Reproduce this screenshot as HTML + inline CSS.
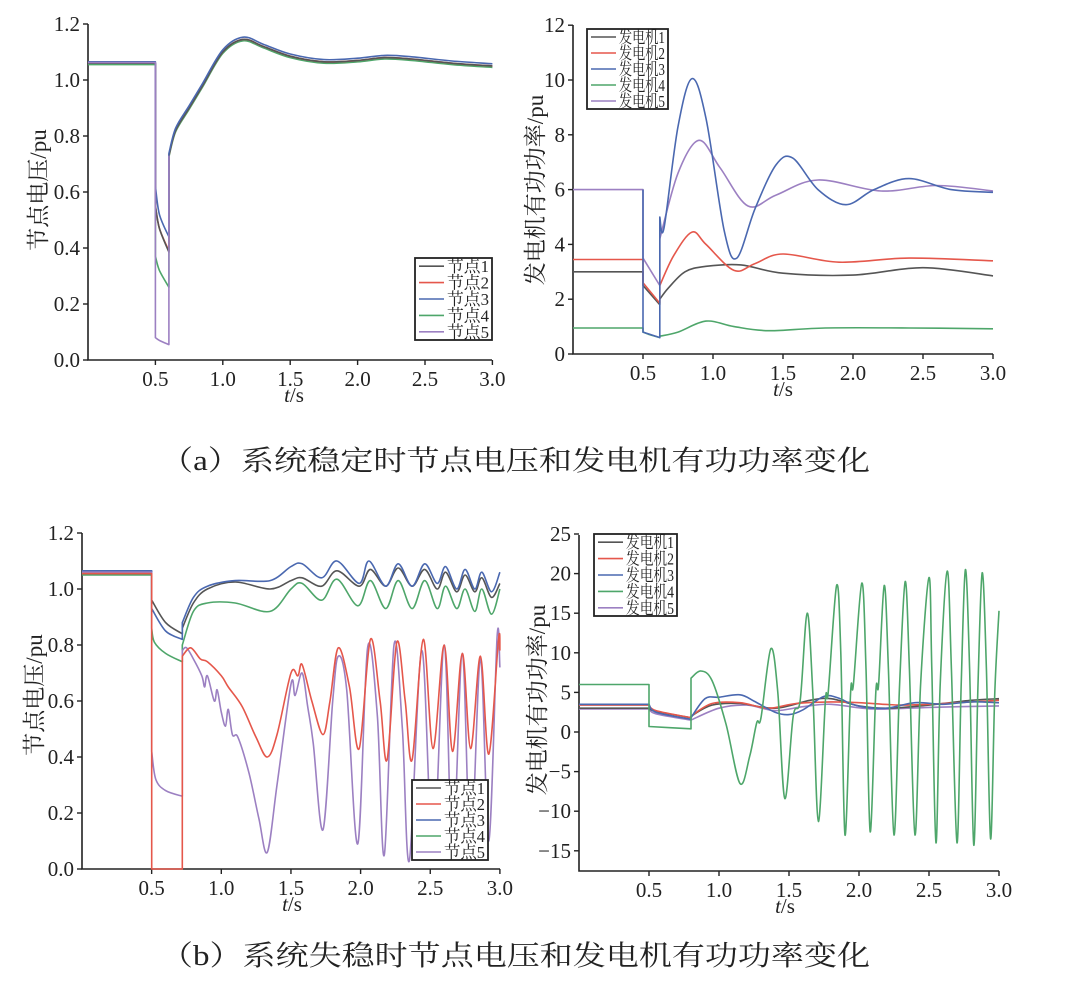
<!DOCTYPE html>
<html><head><meta charset="utf-8">
<style>
html,body{margin:0;padding:0;background:#fff;}
svg{display:block;}
text{font-family:"Liberation Serif","Noto Serif CJK SC",serif;fill:#222;}
</style></head>
<body>
<svg id="s" width="1088" height="982" viewBox="0 0 1088 982" xmlns="http://www.w3.org/2000/svg">
<g id="g"></g>
<text x="160" y="470" font-size="28" textLength="710" lengthAdjust="spacingAndGlyphs">（a）系统稳定时节点电压和发电机有功功率变化</text>
<text x="160" y="965" font-size="28" textLength="710" lengthAdjust="spacingAndGlyphs">（b）系统失稳时节点电压和发电机有功功率变化</text>
</svg>
<script>
var NS="http://www.w3.org/2000/svg",G=document.getElementById("g");
function el(t,a,txt){var e=document.createElementNS(NS,t);for(var k in a)e.setAttribute(k,a[k]);if(txt!=null)e.textContent=txt;G.appendChild(e);return e;}
var C={k:"#555",r:"#e5574b",b:"#4a68b0",g:"#4ea66a",p:"#9c80c2"};
function cr(pts,X,Y){
  var s="";var P=pts.map(function(p){return [X(p[0]),Y(p[1])];});
  for(var i=0;i<P.length-1;i++){var p0=P[i-1]||P[i],p1=P[i],p2=P[i+1],p3=P[i+2]||p2;
    var c1=[p1[0]+(p2[0]-p0[0])/6,p1[1]+(p2[1]-p0[1])/6],c2=[p2[0]-(p3[0]-p1[0])/6,p2[1]-(p3[1]-p1[1])/6];
    s+=" C"+c1[0].toFixed(1)+","+c1[1].toFixed(1)+" "+c2[0].toFixed(1)+","+c2[1].toFixed(1)+" "+p2[0].toFixed(1)+","+p2[1].toFixed(1);}
  return s;}
function series(segs,col,X,Y){var d="";segs.forEach(function(sg,i){var p=sg[0];d+=(i==0?"M":" L")+X(p[0]).toFixed(1)+","+Y(p[1]).toFixed(1)+cr(sg,X,Y);});
  el("path",{d:d,fill:"none",stroke:col,"stroke-width":1.6,"stroke-linejoin":"round"});}
function axes(o){var X=o.X,Y=o.Y;
  el("path",{d:"M"+o.x0+","+o.ytop+" L"+o.x0+","+o.ybot+" L"+o.x1+","+o.ybot,fill:"none",stroke:"#222","stroke-width":1.6});
  o.yt.forEach(function(v){var y=Y(v);el("line",{x1:o.x0-5,y1:y,x2:o.x0,y2:y,stroke:"#222","stroke-width":1.4});
    el("text",{x:o.x0-8,y:y+7,"font-size":21,"text-anchor":"end"},o.yf(v));});
  [0.5,1,1.5,2,2.5,3].forEach(function(t){var x=X(t);el("line",{x1:x,y1:o.ybot,x2:x,y2:o.ybot+5,stroke:"#222","stroke-width":1.4});
    el("text",{x:x,y:o.ybot+26,"font-size":21,"text-anchor":"middle"},t.toFixed(1));});
  var t=el("text",{x:o.tx,y:o.ybot+42,"font-size":21,"text-anchor":"middle"});
  var a=document.createElementNS(NS,"tspan");a.setAttribute("font-style","italic");a.textContent="t";t.appendChild(a);t.appendChild(document.createTextNode("/s"));
  el("text",{x:0,y:0,"font-size":23,"text-anchor":"middle",transform:"translate("+o.lx+","+o.ly+") rotate(-90)"},o.lab);
}
function legend(x,y,w,h,names,cols){el("rect",{x:x,y:y,width:w,height:h,fill:"#fff",stroke:"#222","stroke-width":1.8});
  var dy=h/names.length;names.forEach(function(n,i){var yy=y+dy*(i+0.5);el("line",{x1:x+4,y1:yy,x2:x+29,y2:yy,stroke:cols[i],"stroke-width":1.6});
  el("text",{x:x+32,y:yy+6,"font-size":17,textLength:w-35,lengthAdjust:"spacingAndGlyphs"},n);});}
var cols=[C.k,C.r,C.b,C.g,C.p];
// ---------- Panel A
(function(){var X=function(t){return 88+134.8*t},Y=function(v){return 360-280*v};
axes({X:X,Y:Y,x0:88,x1:492,ytop:24,ybot:360,yt:[0,0.2,0.4,0.6,0.8,1,1.2],yf:function(v){return v.toFixed(1)},tx:294,lab:"节点电压/pu",lx:46,ly:190});
function rec(d){return [[0.6,0.73+d],[0.65,0.82+d],[0.75,0.9+d],[0.85,0.98+d],[1.0,1.1+d],[1.15,1.145+d],[1.3,1.12+d],[1.5,1.085+d],[1.75,1.065+d],[2.0,1.07+d],[2.2,1.08+d],[2.4,1.075+d],[2.7,1.06+d],[3.0,1.05+d]];}
var pre=function(v){return [[0,v],[0.5,v]]};
series([pre(1.055),[[0.5,0.37],[0.53,0.32],[0.6,0.26]],rec(-0.005)],C.g,X,Y);
series([pre(1.06),[[0.5,0.55],[0.53,0.47],[0.6,0.39]],rec(0)],C.r,X,Y);
series([pre(1.06),[[0.5,0.55],[0.53,0.47],[0.6,0.385]],rec(0)],C.k,X,Y);
series([pre(1.065),[[0.5,0.62],[0.53,0.52],[0.6,0.44]],rec(0.008)],C.b,X,Y);
series([pre(1.062),[[0.5,0.08],[0.53,0.07],[0.6,0.055]],[[0.6,0.73]]],C.p,X,Y);
legend(415,258,77,82,["节点1","节点2","节点3","节点4","节点5"],cols);})();
// ---------- Panel B
(function(){var X=function(t){return 573+140*t},Y=function(v){return 354-27.4*v};
axes({X:X,Y:Y,x0:573,x1:993,ytop:25,ybot:354,yt:[0,2,4,6,8,10,12],yf:function(v){return v},tx:783,lab:"发电机有功功率/pu",lx:543,ly:190});
series([[[0,0.95],[0.5,0.95]],[[0.5,0.8],[0.55,0.7],[0.62,0.6]],[[0.62,0.65],[0.75,0.8],[0.95,1.2],[1.15,1.0],[1.4,0.85],[1.8,0.95],[2.4,0.95],[3.0,0.92]]],C.g,X,Y);
series([[[0,3.0],[0.5,3.0]],[[0.5,2.5],[0.62,1.8]],[[0.62,2.0],[0.68,2.4],[0.8,3.0],[0.95,3.2],[1.2,3.25],[1.5,2.95],[2.0,2.88],[2.5,3.15],[3.0,2.85]]],C.k,X,Y);
series([[[0,3.45],[0.5,3.45]],[[0.5,2.6],[0.62,1.85]],[[0.62,2.5],[0.72,3.6],[0.85,4.45],[0.95,4.0],[1.15,3.05],[1.3,3.3],[1.5,3.65],[1.9,3.35],[2.4,3.5],[3.0,3.4]]],C.r,X,Y);
series([[[0,6.0],[0.5,6.0]],[[0.5,3.5],[0.62,2.5]],[[0.62,4.2],[0.75,6.6],[0.9,7.8],[1.05,6.8],[1.25,5.4],[1.45,5.8],[1.75,6.35],[2.2,5.95],[2.6,6.15],[3.0,5.95]]],C.p,X,Y);
series([[[0.5,6.0],[0.5,6.0]],[[0.5,0.8],[0.62,0.6]],[[0.62,5.0],[0.65,4.6],[0.75,8.3],[0.85,10.05],[0.95,8.6],[1.08,4.5],[1.17,3.5],[1.3,5.3],[1.45,6.9],[1.57,7.15],[1.75,6.0],[1.95,5.45],[2.15,6.0],[2.4,6.4],[2.7,6.0],[3.0,5.9]]],C.b,X,Y);
legend(587,29,81,80,["发电机1","发电机2","发电机3","发电机4","发电机5"],cols);})();
// ---------- Panel C
(function(){var X=function(t){return 82+139.3*t},Y=function(v){return 869-280*v};
axes({X:X,Y:Y,x0:82,x1:500,ytop:533,ybot:869,yt:[0,0.2,0.4,0.6,0.8,1,1.2],yf:function(v){return v.toFixed(1)},tx:292,lab:"节点电压/pu",lx:42,ly:695});
series([[[0,1.05],[0.5,1.05]],[[0.5,0.86],[0.52,0.81],[0.6,0.77],[0.72,0.74]],[[0.72,0.8],[0.8,0.92],[0.9,0.95],[1.1,0.95],[1.35,0.92],[1.5,1.0],[1.58,1.02],[1.72,0.96],[1.83,1.035],[1.98,0.94],[2.07,1.03],[2.18,0.93],[2.27,1.03],[2.37,0.93],[2.46,1.03],[2.55,0.93],[2.61,1.01],[2.69,0.93],[2.75,1.0],[2.82,0.92],[2.87,1.0],[2.94,0.91],[3.0,1.0]]],C.g,X,Y);
series([[[0,1.055],[0.5,1.055]],[[0.5,0.96],[0.6,0.88],[0.72,0.84]],[[0.72,0.86],[0.8,0.95],[0.9,1.0],[1.1,1.025],[1.35,1.0],[1.5,1.03],[1.58,1.04],[1.72,1.01],[1.83,1.065],[1.99,1.01],[2.07,1.07],[2.18,1.01],[2.27,1.075],[2.37,1.01],[2.46,1.07],[2.55,1.0],[2.61,1.06],[2.69,0.99],[2.75,1.05],[2.82,0.99],[2.87,1.04],[2.94,0.97],[3.0,1.02]]],C.k,X,Y);
series([[[0,1.065],[0.5,1.065]],[[0.5,0.93],[0.6,0.85],[0.72,0.82]],[[0.72,0.88],[0.8,0.97],[0.9,1.01],[1.1,1.03],[1.35,1.03],[1.5,1.08],[1.58,1.09],[1.72,1.04],[1.83,1.1],[1.99,1.02],[2.06,1.1],[2.18,1.01],[2.27,1.09],[2.37,1.01],[2.46,1.09],[2.55,1.02],[2.61,1.08],[2.69,1.0],[2.75,1.07],[2.82,1.0],[2.87,1.06],[2.94,0.99],[3.0,1.06]]],C.b,X,Y);
series([[[0,1.06],[0.5,1.06]],[[0.5,0.42],[0.53,0.32],[0.6,0.28],[0.72,0.26]],[[0.72,0.78],[0.75,0.79],[0.8,0.75],[0.86,0.69],[0.88,0.65],[0.9,0.69],[0.95,0.6],[0.97,0.64],[1.0,0.56],[1.03,0.51],[1.05,0.57],[1.08,0.48],[1.12,0.47],[1.2,0.34],[1.27,0.18],[1.33,0.06],[1.4,0.3],[1.5,0.66],[1.53,0.62],[1.58,0.7],[1.62,0.58],[1.66,0.45],[1.73,0.14],[1.8,0.6],[1.84,0.76],[1.9,0.64],[1.98,0.09],[2.05,0.79],[2.12,0.55],[2.17,0.05],[2.24,0.8],[2.3,0.5],[2.35,0.03],[2.44,0.78],[2.52,0.04],[2.6,0.8],[2.66,0.05],[2.73,0.77],[2.79,0.06],[2.86,0.75],[2.92,0.1],[2.98,0.83],[3.0,0.72]]],C.p,X,Y);
series([[[0,1.055],[0.5,1.055]],[[0.5,0],[0.72,0]],[[0.72,0.76],[0.78,0.79],[0.85,0.75],[0.9,0.74],[1.0,0.69],[1.05,0.65],[1.15,0.58],[1.25,0.47],[1.33,0.40],[1.4,0.48],[1.5,0.7],[1.55,0.69],[1.58,0.73],[1.65,0.6],[1.73,0.48],[1.78,0.6],[1.84,0.79],[1.92,0.65],[1.99,0.43],[2.07,0.82],[2.14,0.6],[2.19,0.39],[2.26,0.81],[2.32,0.6],[2.37,0.39],[2.45,0.82],[2.52,0.43],[2.6,0.8],[2.66,0.42],[2.73,0.77],[2.79,0.43],[2.86,0.76],[2.92,0.41],[2.99,0.82],[3.0,0.78]]],C.r,X,Y);
legend(412,780,76,80,["节点1","节点2","节点3","节点4","节点5"],cols);})();
// ---------- Panel D
(function(){var X=function(t){return 579+140*t},Y=function(v){return 732-7.92*v};
axes({X:X,Y:Y,x0:579,x1:999,ytop:535,ybot:871,yt:[-15,-10,-5,0,5,10,15,20,25],yf:function(v){return v<0?"\u2212"+(-v):v},tx:785,lab:"发电机有功功率/pu",lx:545,ly:700});
series([[[0,2.9],[0.5,2.9]],[[0.5,2.9],[0.55,2.3],[0.8,1.5]],[[0.8,1.5],[1.0,3.0],[1.2,3.4],[1.4,2.7],[1.6,3.2],[1.8,3.5],[2.1,2.9],[2.5,3.1],[3.0,3.3]]],C.p,X,Y);
series([[[0,3.0],[0.5,3.0]],[[0.5,3.0],[0.55,2.6],[0.8,1.8]],[[0.8,2.0],[0.95,3.4],[1.15,3.6],[1.4,3.0],[1.65,4.0],[1.8,4.2],[2.0,3.3],[2.2,3.0],[2.5,3.4],[2.8,4.0],[3.0,4.2]]],C.k,X,Y);
series([[[0,3.4],[0.5,3.4]],[[0.5,3.4],[0.55,2.7],[0.8,1.8]],[[0.8,2.0],[0.95,3.6],[1.15,3.7],[1.35,3.0],[1.55,3.6],[1.8,3.8],[2.0,3.7],[2.3,3.4],[2.6,3.6],[3.0,4.0]]],C.r,X,Y);
series([[[0,3.5],[0.5,3.5]],[[0.5,3.5],[0.55,2.5],[0.8,1.6]],[[0.8,1.8],[0.9,4.2],[1.0,4.4],[1.15,4.7],[1.25,3.9],[1.4,2.5],[1.5,2.2],[1.6,2.8],[1.75,4.5],[1.85,4.3],[1.95,3.5],[2.05,3.1],[2.2,3.0],[2.4,3.7],[2.6,3.5],[2.8,3.8],[3.0,3.7]]],C.b,X,Y);
series([[[0,6],[0.5,6]],[[0.5,0.7],[0.8,0.4]],[[0.8,6.8],[0.87,7.7],[0.95,6.5],[1.05,1.0],[1.15,-6.5],[1.22,-3],[1.27,1.2],[1.3,1.8],[1.37,10.5],[1.42,5],[1.47,-8.4],[1.53,2],[1.58,4],[1.63,15],[1.67,5],[1.71,-11.3],[1.76,4],[1.78,5],[1.84,18.5],[1.87,10],[1.9,-13],[1.94,5],[1.96,6],[2.02,18.8],[2.05,8],[2.08,-12.6],[2.12,5],[2.14,6],[2.18,18.5],[2.21,8],[2.25,-13],[2.29,6],[2.33,19],[2.36,8],[2.4,-13],[2.44,6],[2.5,19.5],[2.52,8],[2.55,-14],[2.58,6],[2.63,20.3],[2.66,8],[2.7,-14],[2.73,6],[2.76,20.5],[2.79,8],[2.82,-14.3],[2.85,6],[2.88,20.1],[2.91,8],[2.94,-13.5],[2.97,5],[3.0,15.3]]],C.g,X,Y);
legend(594,534,83,82,["发电机1","发电机2","发电机3","发电机4","发电机5"],cols);})();
</script>
</body></html>
